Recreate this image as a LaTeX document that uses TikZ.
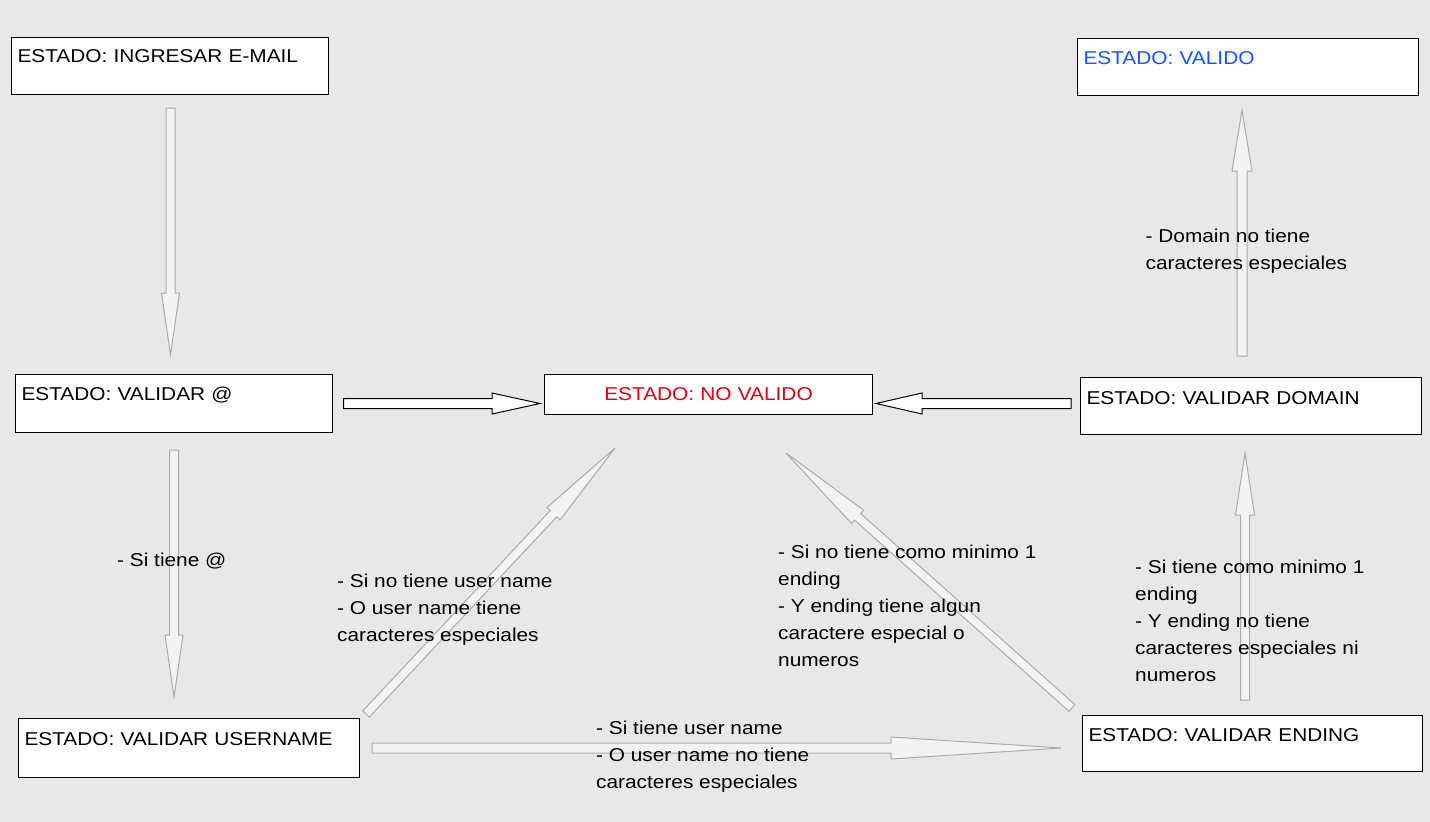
\documentclass[tikz,border=0pt]{standalone}
\usepackage{fontspec}
\setmainfont[FakeStretch=1.12]{Liberation Sans}
\usetikzlibrary{calc,positioning}

\definecolor{fondo}{HTML}{E8E8E8}
\definecolor{rojo}{HTML}{DD0010}
\definecolor{azul}{HTML}{1455FF}
\definecolor{bordegris}{HTML}{ABABAB}
\definecolor{rellenogris}{HTML}{F3F3F3}

% flecha de bloque: [estilo]{desde}{hasta}{largo punta}{medio ancho}{medio ancho punta}
\newcommand{\flechabloque}[6][]{%
  \draw[#1] ($(#2)!#5!90:(#3)$) -- ($(#3)!#4!(#2)!#5!-90:(#2)$)
    -- ($(#3)!#4!(#2)!#6!-90:(#2)$) -- (#3)
    -- ($(#3)!#4!(#2)!#6!90:(#2)$) -- ($(#3)!#4!(#2)!#5!90:(#2)$)
    -- ($(#2)!#5!-90:(#3)$) -- cycle;}

\begin{document}
\begin{tikzpicture}[x=1pt,y=-1pt,
  every node/.style={font=\fontsize{18.6}{27}\selectfont},
  estado/.style={draw, fill=white, line width=1pt, anchor=north west,
    inner xsep=6pt, inner ysep=0pt, align=left, text height=25pt},
  nota/.style={anchor=base west, align=left, inner sep=0pt},
  flechag/.style={draw=bordegris, fill=rellenogris, line width=1pt},
  flechan/.style={draw=black, fill=white, line width=1pt}]
  \fill[fondo] (0,0) rectangle (1430,822);
  \useasboundingbox (0,0) rectangle (1430,822);

  % puntos de las flechas
  \coordinate (ingresar-sal) at (170.5,108);
  \coordinate (arroba-ent) at (170.5,355);
  \coordinate (arroba-der) at (343.5,403.5);
  \coordinate (novalido-izq) at (540,403.5);
  \coordinate (domain-izq) at (1071,403.5);
  \coordinate (novalido-der) at (876,403.5);
  \coordinate (arroba-sal) at (174,450);
  \coordinate (username-ent) at (174,697);
  \coordinate (username-sal) at (366,714);
  \coordinate (novalido-sur1) at (615,448);
  \coordinate (ending-sal) at (1072,708);
  \coordinate (novalido-sur2) at (786,453);
  \coordinate (username-der) at (372,748);
  \coordinate (ending-izq) at (1061,748);
  \coordinate (ending-nor) at (1245,700);
  \coordinate (domain-sur) at (1245,453);
  \coordinate (domain-nor) at (1242,356);
  \coordinate (valido-sur) at (1242,110);

  \flechabloque[flechag]{ingresar-sal}{arroba-ent}{62pt}{4.5pt}{9pt}
  \flechabloque[flechan]{arroba-der}{novalido-izq}{48pt}{5pt}{10.5pt}
  \flechabloque[flechan]{domain-izq}{novalido-der}{46pt}{5pt}{10.5pt}
  \flechabloque[flechag]{arroba-sal}{username-ent}{62pt}{4.5pt}{9pt}
  \flechabloque[flechag]{username-sal}{novalido-sur1}{90pt}{4.5pt}{9pt}
  \flechabloque[flechag]{ending-sal}{novalido-sur2}{96pt}{4.5pt}{9pt}
  \flechabloque[flechag]{username-der}{ending-izq}{170pt}{5pt}{11pt}
  \flechabloque[flechag]{ending-nor}{domain-sur}{62pt}{4.5pt}{9.5pt}
  \flechabloque[flechag]{domain-nor}{valido-sur}{61pt}{5pt}{10pt}

  % estados
  \node[estado, text width=305pt, text depth=32pt] (ingresar) at (11,37) {ESTADO: INGRESAR E-MAIL};
  \node[estado, text width=329pt, text height=26pt, text depth=31pt, text=azul] (valido) at (1077,38) {ESTADO: VALIDO};
  \node[estado, text width=305pt, text height=26pt, text depth=32pt] (arroba) at (15,374) {ESTADO: VALIDAR @};
  \node[estado, text width=316pt, text height=26pt, text depth=14pt, align=center, text=rojo] (novalido) at (544,374) {ESTADO: NO VALIDO};
  \node[estado, text width=329pt, text height=27pt, text depth=30pt] (domain) at (1080,377) {ESTADO: VALIDAR DOMAIN};
  \node[estado, text width=329pt, text height=27pt, text depth=32pt] (username) at (18,718) {ESTADO: VALIDAR USERNAME};
  \node[estado, text width=328pt, text height=26pt, text depth=30pt] (ending) at (1082,715) {ESTADO: VALIDAR ENDING};

  % condiciones
  \node[nota] (n-arroba) at (117,566) {- Si tiene @};
  \node[nota] (n-user) at (337,641) {- Si no tiene user name\\- O user name tiene\\caracteres especiales};
  \node[nota] (n-noending) at (778,666) {- Si no tiene como minimo 1\\ending\\- Y ending tiene algun\\caractere especial o\\numeros};
  \node[nota] (n-ending) at (1135,681) {- Si tiene como minimo 1\\ending\\- Y ending no tiene\\caracteres especiales ni\\numeros};
  \node[nota] (n-domain) at (1145.5,269) {- Domain no tiene\\caracteres especiales};
  \node[nota] (n-username) at (596,788) {- Si tiene user name\\- O user name no tiene\\caracteres especiales};
\end{tikzpicture}
\end{document}
